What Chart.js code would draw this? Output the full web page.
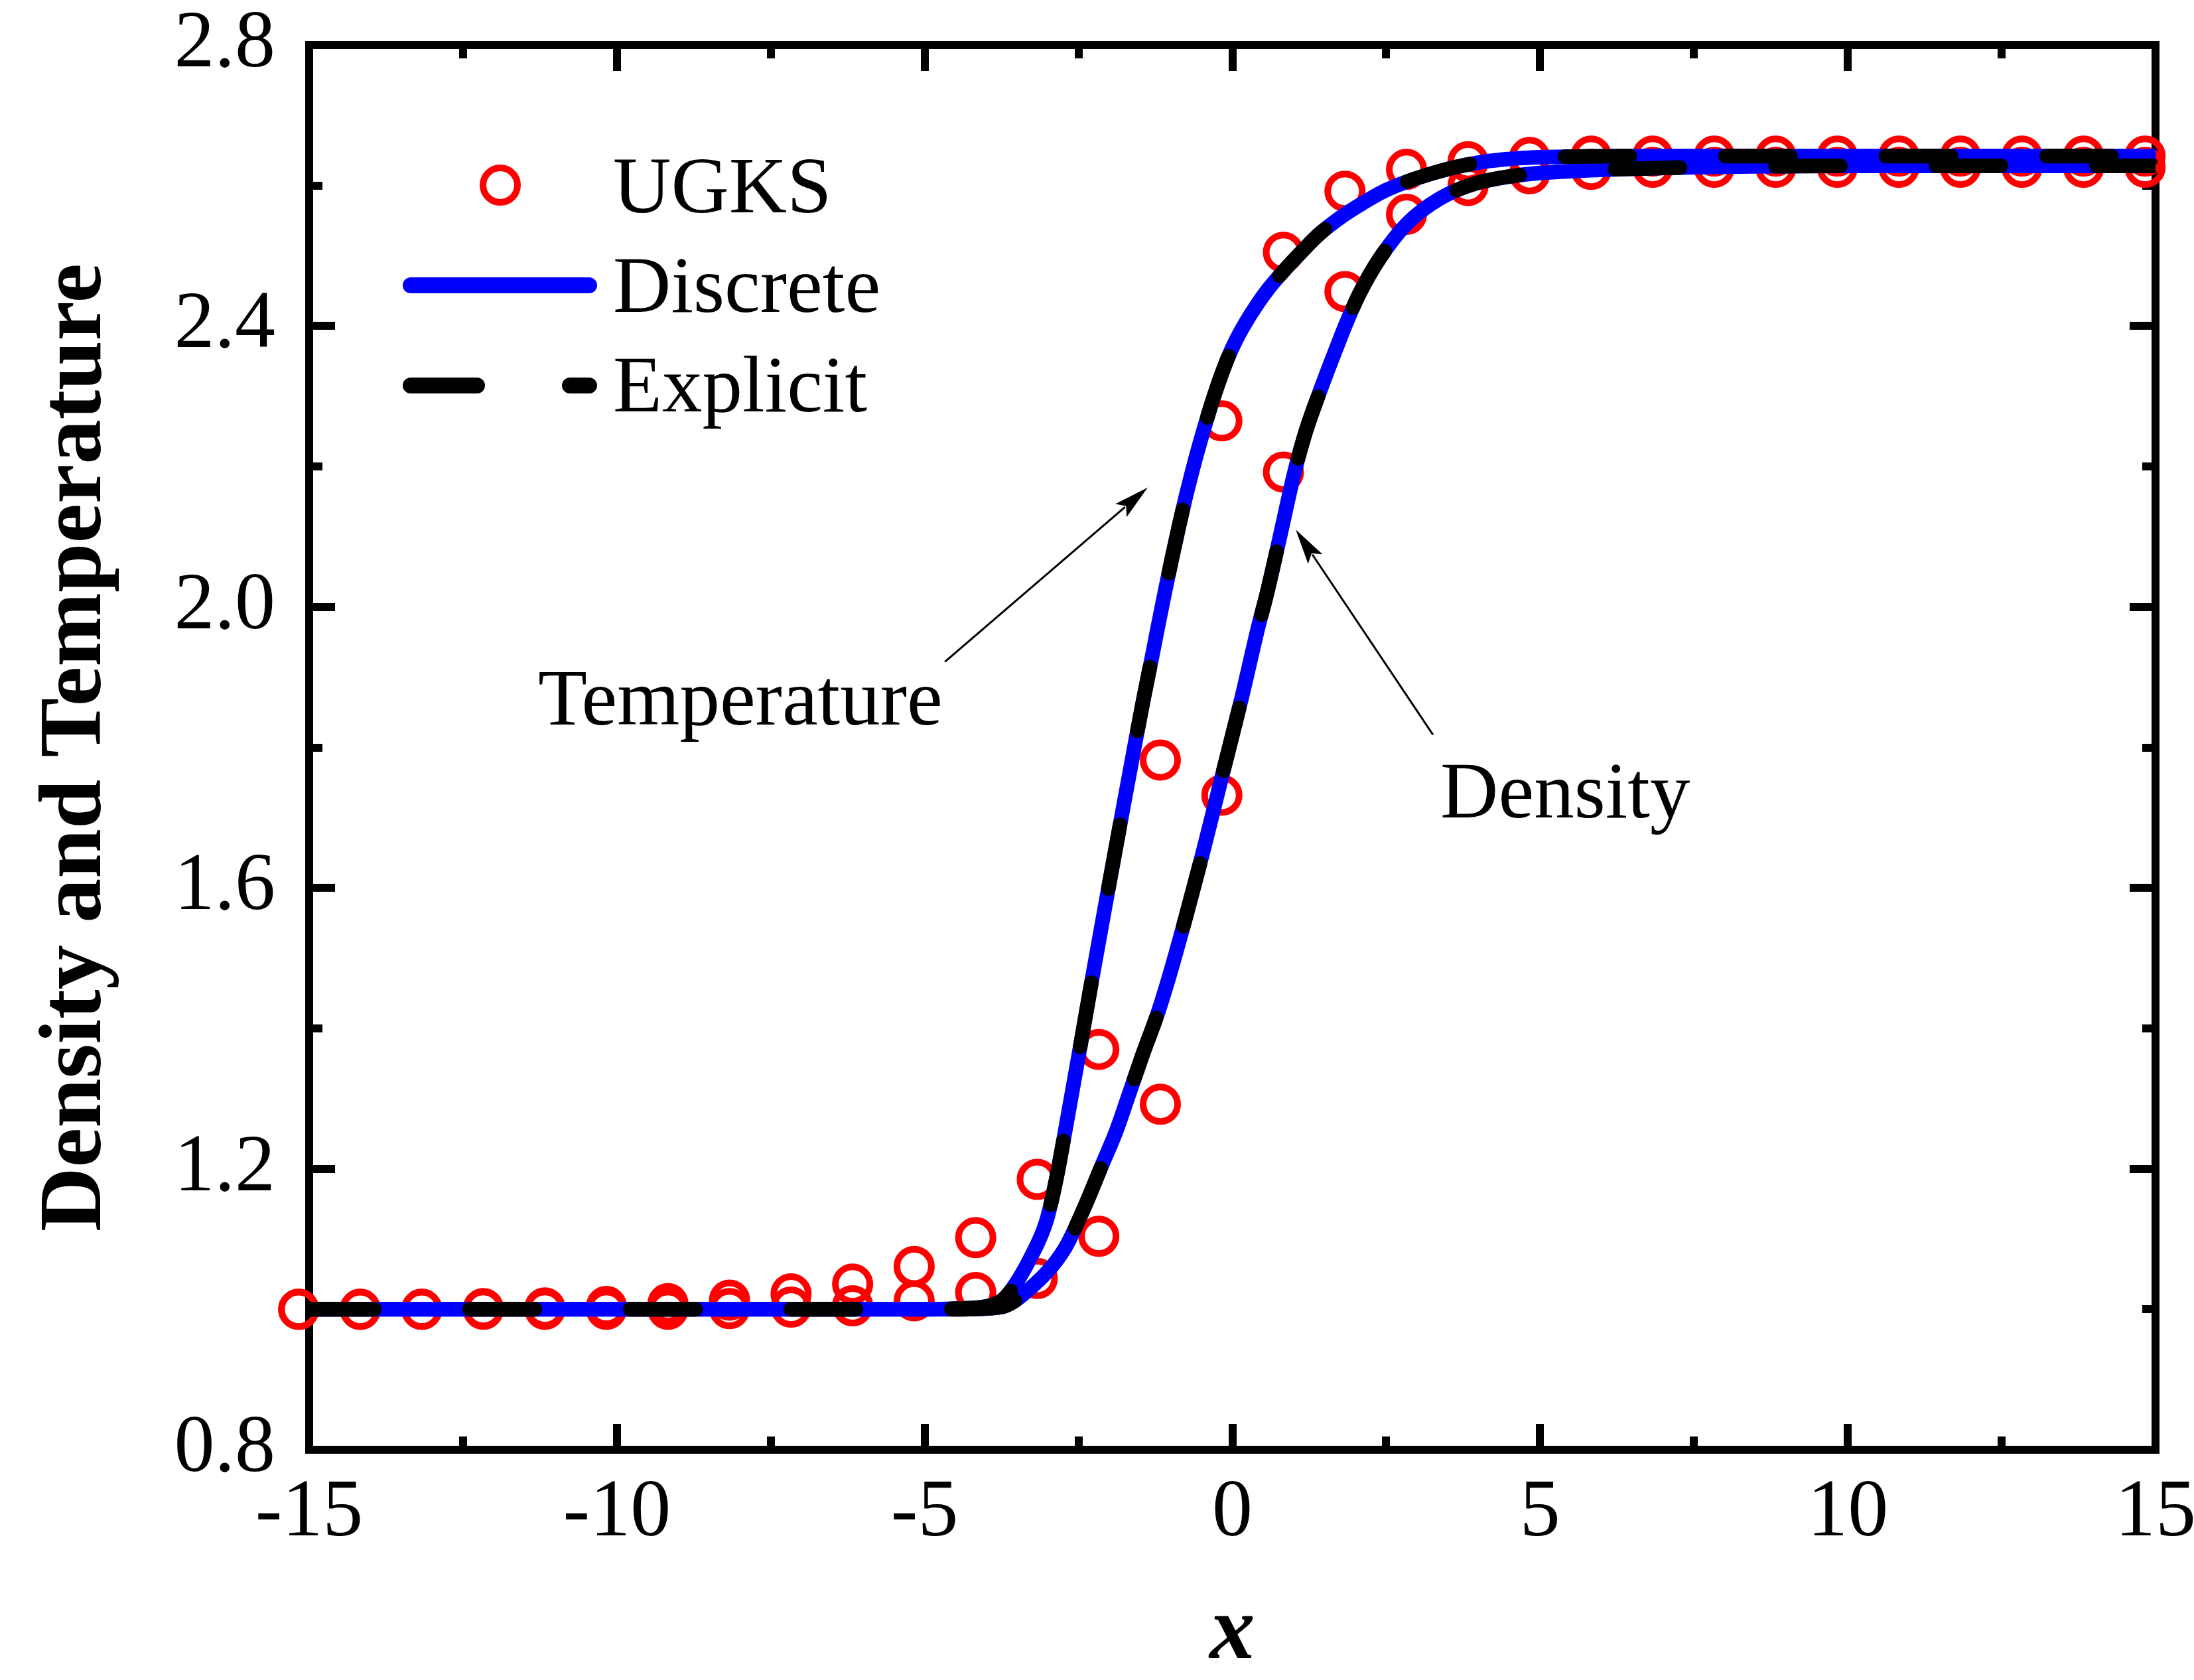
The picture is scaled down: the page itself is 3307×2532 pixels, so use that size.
<!DOCTYPE html>
<html>
<head>
<meta charset="utf-8">
<script src="https://cdn.jsdelivr.net/npm/chart.js@4.4.0/dist/chart.umd.min.js"></script>
<style>
html,body{margin:0;padding:0;background:#ffffff;}
#wrap{width:3307px;height:2532px;position:relative;}
</style>
</head>
<body>
<div id="wrap"><canvas id="c" width="3307" height="2532"></canvas></div>
<script>
// ---------------- data ----------------
const ugksX = [-15.17,-14.17,-13.17,-12.17,-11.17,-10.17,-9.17,-8.17,-7.17,-6.17,-5.17,-4.17,-3.17,-2.17,-1.17,-0.17,0.83,1.83,2.83,3.83,4.83,5.83,6.83,7.83,8.83,9.83,10.83,11.83,12.83,13.83,14.83];
const ugksTemperature = [1.000,1.000,1.000,1.001,1.002,1.004,1.008,1.013,1.022,1.036,1.061,1.102,1.185,1.370,1.782,2.265,2.505,2.592,2.623,2.634,2.640,2.642,2.642,2.642,2.642,2.642,2.642,2.642,2.642,2.642,2.642];
const ugksDensity = [1.000,1.000,1.000,1.000,1.000,1.000,1.000,1.001,1.003,1.005,1.012,1.024,1.044,1.104,1.292,1.732,2.192,2.449,2.559,2.600,2.617,2.623,2.626,2.626,2.626,2.626,2.626,2.626,2.626,2.626,2.626];

const discreteTempX = [-15,-5.0,-4.5,-4.0,-3.74,-3.57,-3.27,-3.02,-2.86,-2.72,-2.61,-2.50,-2.39,-2.28,-2.05,-1.81,-1.58,-1.45,-1.31,-1.20,-1.09,-0.98,-0.87,-0.767,-0.67,-0.58,-0.45,-0.28,-0.08,0.06,0.28,0.55,0.85,1.15,1.40,1.78,2.10,2.51,3.23,3.95,4.91,6.93,10,15];
const discreteTempY = [1.0,1.0,1.001,1.004,1.013,1.030,1.075,1.126,1.186,1.252,1.306,1.360,1.415,1.470,1.582,1.697,1.806,1.866,1.927,1.976,2.024,2.070,2.114,2.153,2.187,2.217,2.257,2.305,2.353,2.380,2.414,2.449,2.480,2.508,2.530,2.556,2.574,2.594,2.617,2.632,2.640,2.642,2.642,2.642];
const discreteDensX = [-15,-4.5,-3.77,-3.27,-2.72,-2.39,-2.12,-1.89,-1.68,-1.46,-1.21,-0.96,-0.48,-0.18,0.15,0.43,0.547,0.763,0.996,1.176,1.427,1.71,1.86,2.07,2.40,2.84,3.38,3.95,4.67,5.63,6.93,10,15];
const discreteDensY = [1.0,1.0,1.003,1.031,1.087,1.148,1.205,1.253,1.306,1.362,1.422,1.494,1.650,1.755,1.870,1.975,2.014,2.096,2.187,2.245,2.308,2.373,2.406,2.447,2.497,2.546,2.582,2.603,2.615,2.621,2.625,2.628,2.628];

const explicitTempX = [-15,-5.0,-4.5,-4.0,-3.74,-3.57,-3.27,-3.02,-2.86,-2.72,-2.61,-2.50,-2.39,-2.28,-2.05,-1.81,-1.58,-1.45,-1.31,-1.20,-1.09,-0.98,-0.87,-0.767,-0.67,-0.58,-0.45,-0.28,-0.08,0.06,0.28,0.55,0.85,1.15,1.40,1.78,2.10,2.51,3.23,3.95,4.91,6.93,10,15];
const explicitTempY = [1.0,1.0,1.001,1.004,1.013,1.030,1.075,1.126,1.186,1.252,1.306,1.360,1.415,1.470,1.582,1.697,1.806,1.866,1.927,1.976,2.024,2.070,2.114,2.153,2.187,2.217,2.257,2.305,2.353,2.380,2.414,2.449,2.480,2.508,2.530,2.556,2.574,2.594,2.617,2.632,2.640,2.642,2.642,2.642];
const explicitDensX = [-15,-4.5,-3.77,-3.27,-2.72,-2.39,-2.12,-1.89,-1.68,-1.46,-1.21,-0.96,-0.48,-0.18,0.15,0.43,0.547,0.763,0.996,1.176,1.427,1.71,1.86,2.07,2.40,2.84,3.38,3.95,4.67,5.63,6.93,10,15];
const explicitDensY = [1.0,1.0,1.003,1.031,1.087,1.148,1.205,1.253,1.306,1.362,1.422,1.494,1.650,1.755,1.870,1.975,2.014,2.096,2.187,2.245,2.308,2.373,2.406,2.447,2.497,2.546,2.582,2.603,2.615,2.621,2.625,2.628,2.628];

const legendLabels = ['UGKS', 'Discrete', 'Explicit'];
const annotationLabels = ['Temperature', 'Density'];
const xTitle = 'x';
const yTitle = 'Density and Temperature';

// ---------------- styling ----------------
const FONT = "'Liberation Serif', 'Times New Roman', serif";
const RED = '#ff0000', BLUE = '#0000ff', BLACK = '#000000';
const LINE_W = 22;
const DASH = [98, 144];

function pts(xs, ys) { return xs.map((x, i) => ({x: x, y: ys[i]})); }

const isMajorX = v => Math.round(v * 2) % 10 === 0;
const isMajorY = v => Math.round(v * 10) % 4 === 0;

function gridOpts(majorFn, startsInside) {
  return {
    display: true,
    drawOnChartArea: false,
    drawTicks: true,
    tickLength: -39,
    tickWidth: 12,
    tickColor: BLACK,
    lineWidth: 12,
    tickBorderDash: ctx => (ctx.tick && majorFn(ctx.tick.value)) ? [] : (startsInside ? [0, 19, 26, 400] : [26, 400])
  };
}
const borderOpts = {display: true, width: 12, color: BLACK};

const CA = {left: 466, right: 3249, top: 68, bottom: 2185};
const W = 3307, H = 2532;

const lineDs = (label, data, color, dash, order) => ({
  type: 'line', label: label, data: data,
  borderColor: color, backgroundColor: color,
  borderWidth: LINE_W, borderDash: dash, borderCapStyle: dash.length ? 'round' : 'butt',
  borderJoinStyle: 'round',
  pointRadius: 0, pointHoverRadius: 0, fill: false,
  cubicInterpolationMode: 'monotone', order: order
});
const ugksDs = (data) => ({
  type: 'scatter', label: 'UGKS', data: data,
  showLine: false, pointStyle: 'circle', pointRadius: 26, pointHoverRadius: 26,
  pointBorderWidth: 10, pointBorderColor: RED, pointBackgroundColor: 'rgba(0,0,0,0)',
  borderColor: RED, backgroundColor: 'rgba(0,0,0,0)', clip: false, order: 3
});

const overlay = {
  id: 'overlay',
  afterDraw(chart) {
    const ctx = chart.ctx;
    const xs = chart.scales.x, ys = chart.scales.y;
    ctx.save();
    // ---- legend ----
    ctx.fillStyle = BLACK;
    ctx.font = '121px ' + FONT;
    ctx.textAlign = 'left';
    ctx.textBaseline = 'alphabetic';
    // UGKS
    ctx.beginPath();
    ctx.arc(754, 279, 26, 0, Math.PI * 2);
    ctx.lineWidth = 10; ctx.strokeStyle = RED; ctx.stroke();
    ctx.fillText(legendLabels[0], 924, 320);
    // Discrete
    ctx.beginPath(); ctx.setLineDash([]);
    ctx.lineCap = 'round'; ctx.lineWidth = 24; ctx.strokeStyle = BLUE;
    ctx.moveTo(619, 430); ctx.lineTo(888, 430); ctx.stroke();
    ctx.fillText(legendLabels[1], 924, 470);
    // Explicit
    ctx.beginPath(); ctx.setLineDash([100, 140]);
    ctx.lineCap = 'round'; ctx.lineWidth = 24; ctx.strokeStyle = BLACK;
    ctx.moveTo(619, 581); ctx.lineTo(888, 581); ctx.stroke();
    ctx.setLineDash([]);
    ctx.fillText(legendLabels[2], 924, 620);

    // ---- annotations (data coordinates) ----
    function arrow(x0, y0, x1, y1) {
      const ax = xs.getPixelForValue(x0), ay = ys.getPixelForValue(y0);
      const bx = xs.getPixelForValue(x1), by = ys.getPixelForValue(y1);
      const ang = Math.atan2(by - ay, bx - ax);
      const L = 53, Wd = 13;
      ctx.beginPath(); ctx.lineCap = 'butt';
      ctx.lineWidth = 3; ctx.strokeStyle = BLACK;
      ctx.moveTo(ax, ay);
      ctx.lineTo(bx - (L - 8) * Math.cos(ang), by - (L - 8) * Math.sin(ang));
      ctx.stroke();
      const baseX = bx - L * Math.cos(ang), baseY = by - L * Math.sin(ang);
      ctx.beginPath();
      ctx.moveTo(bx, by);
      ctx.lineTo(baseX + Wd * Math.sin(ang), baseY - Wd * Math.cos(ang));
      ctx.lineTo(bx - (L - 10) * Math.cos(ang), by - (L - 10) * Math.sin(ang));
      ctx.lineTo(baseX - Wd * Math.sin(ang), baseY + Wd * Math.cos(ang));
      ctx.closePath(); ctx.fillStyle = BLACK; ctx.fill();
    }
    arrow(-4.67, 1.922, -1.375, 2.170);
    arrow(3.26, 1.818, 1.03, 2.110);
    ctx.fillStyle = BLACK;
    ctx.font = '121px ' + FONT;
    ctx.fillText(annotationLabels[0], xs.getPixelForValue(-11.28), ys.getPixelForValue(1.833));
    ctx.fillText(annotationLabels[1], xs.getPixelForValue(3.38), ys.getPixelForValue(1.700));
    ctx.restore();
  }
};

const tickFont = {family: FONT, size: 122};

new Chart(document.getElementById('c'), {
  type: 'scatter',
  data: {
    datasets: [
      lineDs('Explicit temperature', pts(explicitTempX, explicitTempY), BLACK, DASH, 1),
      lineDs('Explicit density', pts(explicitDensX, explicitDensY), BLACK, DASH, 1),
      lineDs('Discrete temperature', pts(discreteTempX, discreteTempY), BLUE, [], 2),
      lineDs('Discrete density', pts(discreteDensX, discreteDensY), BLUE, [], 2),
      ugksDs(pts(ugksX, ugksTemperature)),
      ugksDs(pts(ugksX, ugksDensity))
    ]
  },
  options: {
    responsive: false,
    devicePixelRatio: 1,
    animation: false,
    events: [],
    layout: {padding: 0},
    plugins: {legend: {display: false}, tooltip: {enabled: false}, title: {display: false}},
    scales: {
      x: {
        type: 'linear', position: 'bottom', min: -15, max: 15,
        ticks: {stepSize: 2.5, autoSkip: false, maxRotation: 0, minRotation: 0, color: BLACK, font: tickFont, padding: 63,
          callback: v => isMajorX(v) ? String(Math.round(v)) : ''},
        grid: gridOpts(isMajorX, false),
        border: borderOpts,
        title: {display: true, text: xTitle, color: BLACK, font: {family: FONT, size: 137, weight: 'bold', style: 'italic', lineHeight: 1}, padding: {top: 0, bottom: 0}},
        afterFit: s => { s.height = H - CA.bottom; s.paddingLeft = 0; s.paddingRight = 0; }
      },
      x2: {
        type: 'linear', position: 'top', min: -15, max: 15,
        ticks: {display: false, stepSize: 2.5, autoSkip: false},
        grid: gridOpts(isMajorX, true),
        border: borderOpts,
        afterFit: s => { s.height = CA.top; s.paddingLeft = 0; s.paddingRight = 0; }
      },
      y: {
        type: 'linear', position: 'left', min: 0.8, max: 2.8,
        ticks: {stepSize: 0.2, autoSkip: false, color: BLACK, font: tickFont, padding: 90,
          callback: v => isMajorY(v) ? v.toFixed(1) : ''},
        grid: gridOpts(isMajorY, true),
        border: borderOpts,
        title: {display: true, text: yTitle, color: BLACK, font: {family: FONT, size: 134, weight: 'bold', lineHeight: 1}, padding: {top: 49, bottom: 0}},
        afterFit: s => { s.width = CA.left; s.paddingTop = 0; s.paddingBottom = 0; }
      },
      y2: {
        type: 'linear', position: 'right', min: 0.8, max: 2.8,
        ticks: {display: false, stepSize: 0.2, autoSkip: false},
        grid: gridOpts(isMajorY, false),
        border: borderOpts,
        afterFit: s => { s.width = W - CA.right; s.paddingTop = 0; s.paddingBottom = 0; }
      }
    }
  },
  plugins: [overlay]
});
</script>
</body>
</html>
